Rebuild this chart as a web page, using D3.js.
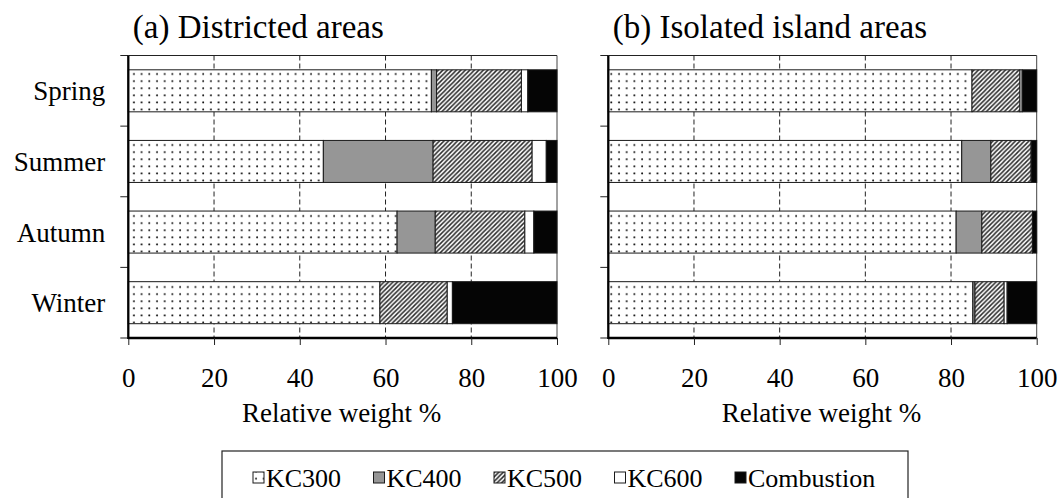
<!DOCTYPE html>
<html>
<head>
<meta charset="utf-8">
<script src="https://cdn.jsdelivr.net/npm/d3@7"></script>
<style>
  html, body { margin: 0; padding: 0; background: #fff; }
  svg { display: block; }
  svg text { font-family: "Liberation Serif", "Tinos", "Times New Roman", "DejaVu Serif", serif !important; fill: #000; }
</style>
</head>
<body>
<div id="chart"></div>
<script>
// ---------------- DATA ----------------
const seasons = ["Spring", "Summer", "Autumn", "Winter"];
const seriesNames = ["KC300", "KC400", "KC500", "KC600", "Combustion"];
const xTicks = [0, 20, 40, 60, 80, 100];

// (a) Districted areas (relative weight %)
const districtedKC300 = [70.7, 45.5, 62.7, 58.7];
const districtedKC400 = [1.2, 25.6, 8.9, 0.0];
const districtedKC500 = [19.8, 23.1, 20.9, 15.7];
const districtedKC600 = [1.5, 3.3, 2.1, 1.2];
const districtedCombustion = [6.8, 2.5, 5.4, 24.4];

// (b) Isolated island areas (relative weight %)
const islandKC300 = [84.9, 82.5, 81.2, 85.1];
const islandKC400 = [0.0, 6.8, 6.0, 0.5];
const islandKC500 = [11.2, 9.4, 11.8, 6.8];
const islandKC600 = [0.5, 0.0, 0.0, 0.7];
const islandCombustion = [3.4, 1.3, 1.0, 6.9];

const panelTitles = ["(a) Districted areas", "(b) Isolated island areas"];
const xAxisTitle = "Relative weight %";

// ---------------- BUILD ----------------
const FONT = '"Liberation Serif", "Tinos", "Times New Roman", "DejaVu Serif", serif';
function rows(k300, k400, k500, k600, comb) {
  return seasons.map((s, i) => ({
    season: s, KC300: k300[i], KC400: k400[i], KC500: k500[i], KC600: k600[i], Combustion: comb[i]
  }));
}
const panels = [
  { title: panelTitles[0], data: rows(districtedKC300, districtedKC400, districtedKC500, districtedKC600, districtedCombustion), x0: 128.3, x1: 557, labels: true },
  { title: panelTitles[1], data: rows(islandKC300, islandKC400, islandKC500, islandKC600, islandCombustion), x0: 608.3, x1: 1036.7, labels: false }
];

const W = 1062, H = 498;
const plotTop = 55.5, plotBottom = 338;
const svg = d3.select("#chart").append("svg").attr("width", W).attr("height", H)
  .attr("font-family", FONT);

// patterns
const defs = svg.append("defs");
const dots = defs.append("pattern").attr("id", "pDots").attr("patternUnits", "userSpaceOnUse")
  .attr("width", 7.7).attr("height", 7.1);
dots.append("rect").attr("width", 7.7).attr("height", 7.1).attr("fill", "#fff");
dots.append("circle").attr("cx", 3).attr("cy", 3).attr("r", 0.95).attr("fill", "#111");

const hatch = defs.append("pattern").attr("id", "pHatch").attr("patternUnits", "userSpaceOnUse")
  .attr("width", 4.5).attr("height", 4.5);
hatch.append("rect").attr("width", 4.5).attr("height", 4.5).attr("fill", "#fff");
hatch.append("path").attr("d", "M-1,1 L1,-1 M0,4.5 L4.5,0 M3.5,5.5 L5.5,3.5")
  .attr("stroke", "#2a2a2a").attr("stroke-width", 1.5);

const fills = {
  KC300: "url(#pDots)",
  KC400: "#969696",
  KC500: "url(#pHatch)",
  KC600: "#ffffff",
  Combustion: "#050505"
};

const stack = d3.stack().keys(seriesNames);

panels.forEach(p => {
  const x = d3.scaleLinear().domain([0, 100]).range([p.x0, p.x1]);
  const y = d3.scaleBand().domain(seasons).range([plotTop, plotBottom]).paddingInner(0.405).paddingOuter(0.2025);
  const g = svg.append("g");

  // gridlines (dashed)
  g.selectAll("line.grid").data(xTicks.filter(t => t > 0 && t < 100)).join("line")
    .attr("x1", d => x(d)).attr("x2", d => x(d)).attr("y1", plotTop).attr("y2", plotBottom)
    .attr("stroke", "#222").attr("stroke-width", 1).attr("stroke-dasharray", "5,3");

  // frame top & right (thin)
  g.append("line").attr("x1", x(0)).attr("x2", x(100)).attr("y1", plotTop).attr("y2", plotTop)
    .attr("stroke", "#222").attr("stroke-width", 1);
  g.append("line").attr("x1", x(100)).attr("x2", x(100)).attr("y1", plotTop).attr("y2", plotBottom)
    .attr("stroke", "#444").attr("stroke-width", 1);

  // bars
  const layers = stack(p.data);
  layers.forEach(layer => {
    g.selectAll(null).data(layer.filter(d => d[1] - d[0] > 0)).join("rect")
      .attr("x", d => x(d[0])).attr("width", d => x(d[1]) - x(d[0]))
      .attr("y", d => y(d.data.season)).attr("height", y.bandwidth())
      .attr("fill", fills[layer.key]).attr("stroke", "#1a1a1a").attr("stroke-width", 1);
  });

  // x axis
  const xAxis = d3.axisBottom(x).tickValues(xTicks).tickSize(7).tickPadding(23).tickFormat(d3.format("d"));
  const ax = g.append("g").attr("transform", `translate(0,${plotBottom})`).call(xAxis)
    .attr("font-family", FONT).attr("font-size", 27);
  ax.select(".domain").attr("stroke", "#000").attr("stroke-width", 2.3).attr("d", `M${x(0)},0H${x(100)}`);
  ax.selectAll(".tick line").attr("stroke", "#222").attr("stroke-width", 1);
  ax.selectAll(".tick text").attr("font-size", 27).attr("fill", "#000");

  // y axis: ticks at category boundaries
  const gap = (y.step() - y.bandwidth()) / 2;
  const bounds = seasons.map(s => y(s) - gap).concat([y(seasons[seasons.length - 1]) + y.bandwidth() + gap]);
  g.selectAll("line.ytick").data(bounds).join("line")
    .attr("x1", x(0) - 8).attr("x2", x(0)).attr("y1", d => d).attr("y2", d => d)
    .attr("stroke", "#222").attr("stroke-width", 1);
  g.append("line").attr("x1", x(0)).attr("x2", x(0)).attr("y1", plotTop).attr("y2", plotBottom + 1)
    .attr("stroke", "#000").attr("stroke-width", 2.3);

  if (p.labels) {
    g.selectAll("text.ylab").data(seasons).join("text")
      .attr("x", x(0) - 23).attr("y", d => y(d) + y.bandwidth() / 2).attr("dy", "0.35em")
      .attr("text-anchor", "end").attr("font-size", 27).text(d => d);
  }

  // titles
  g.append("text").attr("x", x(0) + 4.5).attr("y", 37.5).attr("font-size", 33).text(p.title);
  g.append("text").attr("x", (x(0) + x(100)) / 2 - 1).attr("y", 421.5).attr("text-anchor", "middle")
    .attr("font-size", 27).text(xAxisTitle);
});

// legend
const legend = svg.append("g");
legend.append("rect").attr("x", 222).attr("y", 451).attr("width", 686).attr("height", 60)
  .attr("fill", "none").attr("stroke", "#222").attr("stroke-width", 1.2);
const legendX = d3.scalePoint().domain(seriesNames).range([253, 735]);
const li = legend.selectAll("g.item").data(seriesNames).join("g")
  .attr("transform", d => `translate(${legendX(d)},0)`);
li.append("rect").attr("x", 0).attr("y", 472).attr("width", 11).attr("height", 11)
  .attr("fill", d => fills[d]).attr("stroke", "#1a1a1a").attr("stroke-width", 1);
li.append("text").attr("x", 13).attr("y", 487).attr("font-size", 26).text(d => d);
</script>
</body>
</html>
